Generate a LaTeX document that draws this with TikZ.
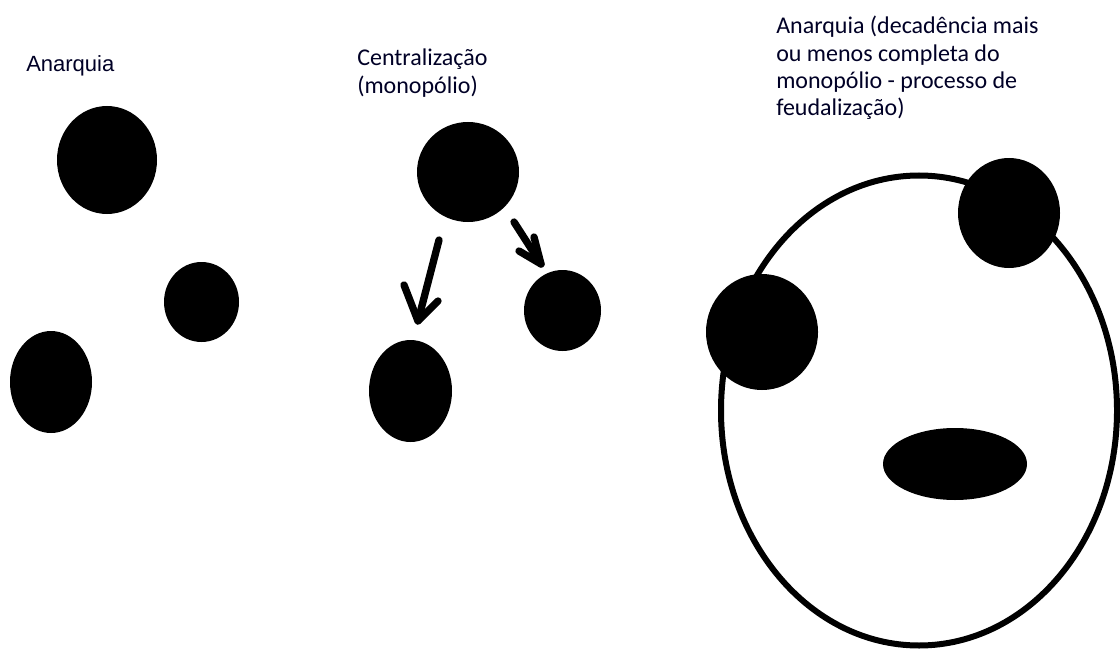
\documentclass[tikz,border=0pt]{standalone}
\usepackage{fontspec}
\setmainfont{Carlito}
\newfontfamily\arialfont{Liberation Sans}
\usetikzlibrary{shapes.geometric}
\tikzset{
  blob/.style={ellipse, fill=black, inner sep=0pt, outer sep=0pt},
  ring/.style={ellipse, draw=black, line width=4.5pt, inner sep=0pt},
  stroke/.style={line width=5.5pt, line cap=round, line join=round},
  lbl/.style={inner sep=0pt, anchor=north west, align=left, text=black!85!blue},
}
\begin{document}
\begin{tikzpicture}[x=0.75pt, y=-0.75pt]
\useasboundingbox[fill=white] (0,0) rectangle (1120,649);

% labels
\node[lbl, font=\arialfont\fontsize{16.5pt}{19pt}\selectfont] (t1) at (26,55) {Anarquia};
\node[lbl, font=\fontsize{18pt}{21pt}\selectfont] (t2) at (357,49) {Centralização\\(monopólio)};
\node[lbl, font=\fontsize{18pt}{20.5pt}\selectfont] (t3) at (776,16) {Anarquia (decadência mais\\ou menos completa do\\monopólio - processo de\\feudalização)};

% left group
\node[blob, minimum width=75pt, minimum height=81pt] (L1) at (107,160) {};
\node[blob, minimum width=56.25pt, minimum height=60pt] (L2) at (201.5,302) {};
\node[blob, minimum width=61.5pt, minimum height=76.5pt] (L3) at (51,382) {};

% middle group
\node[blob, minimum width=76.5pt, minimum height=75pt] (M1) at (468,172) {};
\node[blob, minimum width=62.25pt, minimum height=76.5pt] (M2) at (410.5,391) {};
\node[blob, minimum width=57.75pt, minimum height=60.75pt] (M3) at (562.5,310.5) {};

% arrows
\coordinate (a1s) at (439,240);
\coordinate (a1t) at (418,321);
\coordinate (a1l) at (404,285);
\coordinate (a1r) at (438,301);
\draw[stroke] (a1s) -- (a1t);
\draw[stroke] (a1l) -- (a1t) -- (a1r);

\coordinate (a2s) at (514,222);
\coordinate (a2t) at (541,264);
\coordinate (a2l) at (534,237);
\coordinate (a2r) at (519,251);
\draw[stroke] (a2s) -- (a2t);
\draw[stroke] (a2l) -- (a2t) -- (a2r);

% right group
\node[ring, minimum width=297pt, minimum height=352.5pt] (B) at (919,410.5) {};
\node[blob, minimum width=76.5pt, minimum height=82.5pt] (R1) at (1009,213) {};
\node[blob, minimum width=84pt, minimum height=87pt] (R2) at (762,332) {};
\node[blob, minimum width=108pt, minimum height=54pt] (R3) at (955,464) {};
\end{tikzpicture}
\end{document}
